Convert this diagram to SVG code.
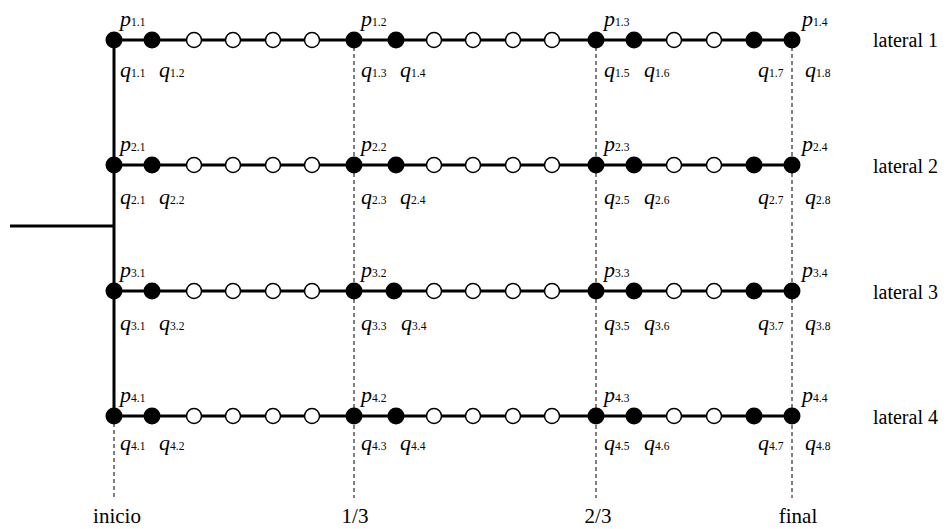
<svg xmlns="http://www.w3.org/2000/svg" width="951" height="529" viewBox="0 0 951 529">
<style>
.f{fill:#000}
.o{fill:#fff;stroke:#000;stroke-width:1.5}
.ln{stroke:#000;stroke-width:3;fill:none}
.ds{stroke:#000;stroke-width:1;stroke-dasharray:4 3;fill:none}
text{font-family:"Liberation Serif","Times New Roman",serif;fill:#000}
.v{font-style:italic;font-size:22px}
.s{font-style:normal;font-size:11.5px}
.lat{font-size:20px}
.ax{font-size:21px;text-anchor:middle}
</style>
<g id="connectors">
<line class="ds" x1="114" y1="416" x2="114" y2="498"/>
<line class="ds" x1="354" y1="40" x2="354" y2="498"/>
<line class="ds" x1="596" y1="40" x2="596" y2="498"/>
<line class="ds" x1="792" y1="40" x2="792" y2="498"/>
<line class="ln" x1="10" y1="226" x2="114" y2="226"/>
<line class="ln" x1="114" y1="40" x2="114" y2="416"/>
<line class="ln" x1="114" y1="40" x2="792" y2="40"/>
<line class="ln" x1="114" y1="165" x2="792" y2="165"/>
<line class="ln" x1="114" y1="291" x2="792" y2="291"/>
<line class="ln" x1="114" y1="416" x2="792" y2="416"/>
</g>
<!-- row 1 -->
<g id="lateral1">
<g id="n1-1"><circle class="f" cx="114" cy="40" r="8.5"/><text class="v" x="120" y="26">p<tspan class="s">1.1</tspan></text><text class="v" x="120" y="77">q<tspan class="s">1.1</tspan></text></g>
<g id="n1-2"><circle class="f" cx="152" cy="40" r="8.5"/><text class="v" x="159" y="77">q<tspan class="s">1.2</tspan></text></g>
<g id="o1-1"><circle class="o" cx="194" cy="40" r="7.5"/></g>
<g id="o1-2"><circle class="o" cx="233" cy="40" r="7.5"/></g>
<g id="o1-3"><circle class="o" cx="273" cy="40" r="7.5"/></g>
<g id="o1-4"><circle class="o" cx="312" cy="40" r="7.5"/></g>
<g id="n1-3"><circle class="f" cx="354" cy="40" r="8.5"/><text class="v" x="361" y="26">p<tspan class="s">1.2</tspan></text><text class="v" x="361" y="77">q<tspan class="s">1.3</tspan></text></g>
<g id="n1-4"><circle class="f" cx="396" cy="40" r="8.5"/><text class="v" x="400" y="77">q<tspan class="s">1.4</tspan></text></g>
<g id="o1-5"><circle class="o" cx="434" cy="40" r="7.5"/></g>
<g id="o1-6"><circle class="o" cx="473" cy="40" r="7.5"/></g>
<g id="o1-7"><circle class="o" cx="513" cy="40" r="7.5"/></g>
<g id="o1-8"><circle class="o" cx="552" cy="40" r="7.5"/></g>
<g id="n1-5"><circle class="f" cx="596" cy="40" r="8.5"/><text class="v" x="604" y="26">p<tspan class="s">1.3</tspan></text><text class="v" x="604" y="77">q<tspan class="s">1.5</tspan></text></g>
<g id="n1-6"><circle class="f" cx="634" cy="40" r="8.5"/><text class="v" x="644" y="77">q<tspan class="s">1.6</tspan></text></g>
<g id="o1-9"><circle class="o" cx="674" cy="40" r="7.5"/></g>
<g id="o1-10"><circle class="o" cx="714" cy="40" r="7.5"/></g>
<g id="n1-7"><circle class="f" cx="754" cy="40" r="8.5"/><text class="v" x="758" y="77">q<tspan class="s">1.7</tspan></text></g>
<g id="n1-8"><circle class="f" cx="792" cy="40" r="8.5"/><text class="v" x="802" y="26">p<tspan class="s">1.4</tspan></text><text class="v" x="805" y="77">q<tspan class="s">1.8</tspan></text></g>
<text class="lat" x="873" y="47">lateral 1</text>
</g>
<!-- row 2 -->
<g id="lateral2">
<g id="n2-1"><circle class="f" cx="114" cy="165" r="8.5"/><text class="v" x="120" y="151">p<tspan class="s">2.1</tspan></text><text class="v" x="120" y="204">q<tspan class="s">2.1</tspan></text></g>
<g id="n2-2"><circle class="f" cx="152" cy="165" r="8.5"/><text class="v" x="159" y="204">q<tspan class="s">2.2</tspan></text></g>
<g id="o2-1"><circle class="o" cx="194" cy="165" r="7.5"/></g>
<g id="o2-2"><circle class="o" cx="233" cy="165" r="7.5"/></g>
<g id="o2-3"><circle class="o" cx="273" cy="165" r="7.5"/></g>
<g id="o2-4"><circle class="o" cx="312" cy="165" r="7.5"/></g>
<g id="n2-3"><circle class="f" cx="354" cy="165" r="8.5"/><text class="v" x="361" y="151">p<tspan class="s">2.2</tspan></text><text class="v" x="361" y="204">q<tspan class="s">2.3</tspan></text></g>
<g id="n2-4"><circle class="f" cx="396" cy="165" r="8.5"/><text class="v" x="400" y="204">q<tspan class="s">2.4</tspan></text></g>
<g id="o2-5"><circle class="o" cx="434" cy="165" r="7.5"/></g>
<g id="o2-6"><circle class="o" cx="473" cy="165" r="7.5"/></g>
<g id="o2-7"><circle class="o" cx="513" cy="165" r="7.5"/></g>
<g id="o2-8"><circle class="o" cx="552" cy="165" r="7.5"/></g>
<g id="n2-5"><circle class="f" cx="596" cy="165" r="8.5"/><text class="v" x="604" y="151">p<tspan class="s">2.3</tspan></text><text class="v" x="604" y="204">q<tspan class="s">2.5</tspan></text></g>
<g id="n2-6"><circle class="f" cx="634" cy="165" r="8.5"/><text class="v" x="644" y="204">q<tspan class="s">2.6</tspan></text></g>
<g id="o2-9"><circle class="o" cx="674" cy="165" r="7.5"/></g>
<g id="o2-10"><circle class="o" cx="714" cy="165" r="7.5"/></g>
<g id="n2-7"><circle class="f" cx="754" cy="165" r="8.5"/><text class="v" x="758" y="204">q<tspan class="s">2.7</tspan></text></g>
<g id="n2-8"><circle class="f" cx="792" cy="165" r="8.5"/><text class="v" x="802" y="151">p<tspan class="s">2.4</tspan></text><text class="v" x="805" y="204">q<tspan class="s">2.8</tspan></text></g>
<text class="lat" x="873" y="173">lateral 2</text>
</g>
<!-- row 3 -->
<g id="lateral3">
<g id="n3-1"><circle class="f" cx="114" cy="291" r="8.5"/><text class="v" x="120" y="277">p<tspan class="s">3.1</tspan></text><text class="v" x="120" y="330">q<tspan class="s">3.1</tspan></text></g>
<g id="n3-2"><circle class="f" cx="152" cy="291" r="8.5"/><text class="v" x="159" y="330">q<tspan class="s">3.2</tspan></text></g>
<g id="o3-1"><circle class="o" cx="194" cy="291" r="7.5"/></g>
<g id="o3-2"><circle class="o" cx="233" cy="291" r="7.5"/></g>
<g id="o3-3"><circle class="o" cx="273" cy="291" r="7.5"/></g>
<g id="o3-4"><circle class="o" cx="312" cy="291" r="7.5"/></g>
<g id="n3-3"><circle class="f" cx="354" cy="291" r="8.5"/><text class="v" x="361" y="277">p<tspan class="s">3.2</tspan></text><text class="v" x="361" y="330">q<tspan class="s">3.3</tspan></text></g>
<g id="n3-4"><circle class="f" cx="394" cy="291" r="8.5"/><text class="v" x="401" y="330">q<tspan class="s">3.4</tspan></text></g>
<g id="o3-5"><circle class="o" cx="434" cy="291" r="7.5"/></g>
<g id="o3-6"><circle class="o" cx="473" cy="291" r="7.5"/></g>
<g id="o3-7"><circle class="o" cx="513" cy="291" r="7.5"/></g>
<g id="o3-8"><circle class="o" cx="552" cy="291" r="7.5"/></g>
<g id="n3-5"><circle class="f" cx="596" cy="291" r="8.5"/><text class="v" x="604" y="277">p<tspan class="s">3.3</tspan></text><text class="v" x="604" y="330">q<tspan class="s">3.5</tspan></text></g>
<g id="n3-6"><circle class="f" cx="634" cy="291" r="8.5"/><text class="v" x="644" y="330">q<tspan class="s">3.6</tspan></text></g>
<g id="o3-9"><circle class="o" cx="674" cy="291" r="7.5"/></g>
<g id="o3-10"><circle class="o" cx="714" cy="291" r="7.5"/></g>
<g id="n3-7"><circle class="f" cx="754" cy="291" r="8.5"/><text class="v" x="758" y="330">q<tspan class="s">3.7</tspan></text></g>
<g id="n3-8"><circle class="f" cx="792" cy="291" r="8.5"/><text class="v" x="802" y="277">p<tspan class="s">3.4</tspan></text><text class="v" x="805" y="330">q<tspan class="s">3.8</tspan></text></g>
<text class="lat" x="873" y="299">lateral 3</text>
</g>
<!-- row 4 -->
<g id="lateral4">
<g id="n4-1"><circle class="f" cx="114" cy="416" r="8.5"/><text class="v" x="120" y="402">p<tspan class="s">4.1</tspan></text><text class="v" x="120" y="450">q<tspan class="s">4.1</tspan></text></g>
<g id="n4-2"><circle class="f" cx="152" cy="416" r="8.5"/><text class="v" x="159" y="450">q<tspan class="s">4.2</tspan></text></g>
<g id="o4-1"><circle class="o" cx="194" cy="416" r="7.5"/></g>
<g id="o4-2"><circle class="o" cx="233" cy="416" r="7.5"/></g>
<g id="o4-3"><circle class="o" cx="273" cy="416" r="7.5"/></g>
<g id="o4-4"><circle class="o" cx="312" cy="416" r="7.5"/></g>
<g id="n4-3"><circle class="f" cx="354" cy="416" r="8.5"/><text class="v" x="361" y="402">p<tspan class="s">4.2</tspan></text><text class="v" x="361" y="450">q<tspan class="s">4.3</tspan></text></g>
<g id="n4-4"><circle class="f" cx="396" cy="416" r="8.5"/><text class="v" x="400" y="450">q<tspan class="s">4.4</tspan></text></g>
<g id="o4-5"><circle class="o" cx="434" cy="416" r="7.5"/></g>
<g id="o4-6"><circle class="o" cx="473" cy="416" r="7.5"/></g>
<g id="o4-7"><circle class="o" cx="513" cy="416" r="7.5"/></g>
<g id="o4-8"><circle class="o" cx="552" cy="416" r="7.5"/></g>
<g id="n4-5"><circle class="f" cx="596" cy="416" r="8.5"/><text class="v" x="604" y="402">p<tspan class="s">4.3</tspan></text><text class="v" x="604" y="450">q<tspan class="s">4.5</tspan></text></g>
<g id="n4-6"><circle class="f" cx="634" cy="416" r="8.5"/><text class="v" x="644" y="450">q<tspan class="s">4.6</tspan></text></g>
<g id="o4-9"><circle class="o" cx="674" cy="416" r="7.5"/></g>
<g id="o4-10"><circle class="o" cx="714" cy="416" r="7.5"/></g>
<g id="n4-7"><circle class="f" cx="754" cy="416" r="8.5"/><text class="v" x="758" y="450">q<tspan class="s">4.7</tspan></text></g>
<g id="n4-8"><circle class="f" cx="792" cy="416" r="8.5"/><text class="v" x="802" y="402">p<tspan class="s">4.4</tspan></text><text class="v" x="805" y="450">q<tspan class="s">4.8</tspan></text></g>
<text class="lat" x="873" y="424">lateral 4</text>
</g>
<g id="axis">
<text class="ax" x="117" y="523">inicio</text>
<text class="ax" x="355" y="523">1/3</text>
<text class="ax" x="598" y="523">2/3</text>
<text class="ax" x="798" y="523">final</text>
</g>
</svg>
